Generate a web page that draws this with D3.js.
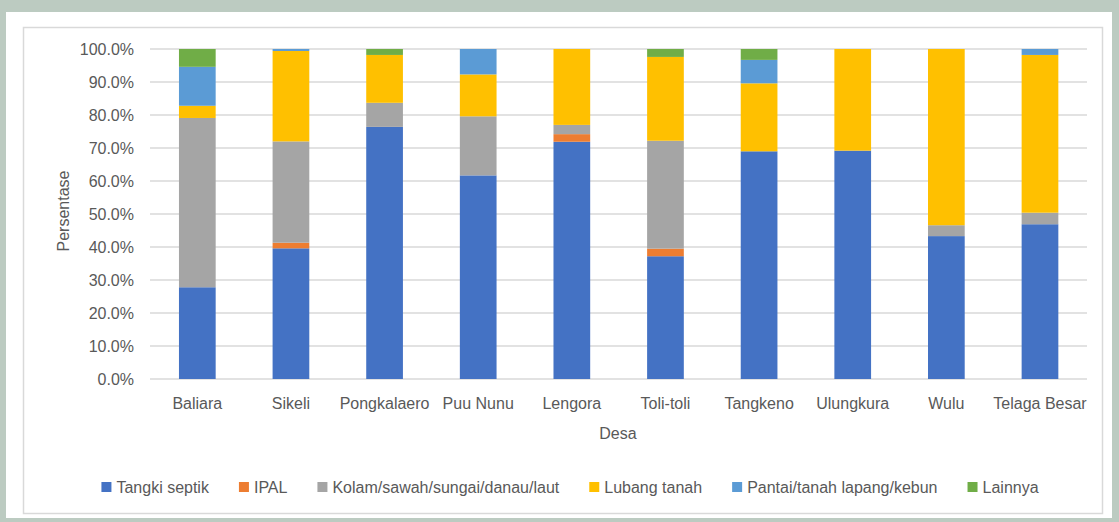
<!DOCTYPE html>
<html><head><meta charset="utf-8">
<script src="https://cdn.jsdelivr.net/npm/d3@7"></script>
<style>
html,body{margin:0;padding:0;background:#bccbc1;}
svg{display:block;font-family:"Liberation Sans",Arial,sans-serif;}
</style></head>
<body>
<svg id="chart" width="1119" height="522"></svg>
<script>
const categories = ["Baliara","Sikeli","Pongkalaero","Puu Nunu","Lengora","Toli-toli","Tangkeno","Ulungkura","Wulu","Telaga Besar"];
const seriesNames = ["Tangki septik","IPAL","Kolam/sawah/sungai/danau/laut","Lubang tanah","Pantai/tanah lapang/kebun","Lainnya"];
const seriesColors = ["#4472c4","#ed7d31","#a5a5a5","#ffc000","#5b9bd5","#70ad47"];
const tangkiSeptik = [27.8, 39.6, 76.4, 61.7, 71.9, 37.2, 69.0, 69.2, 43.3, 46.9];
const ipal         = [0.0,  1.7,  0.0,  0.0,  2.3,  2.3,  0.0,  0.0,  0.0,  0.0];
const kolam        = [51.3, 30.7, 7.3,  17.9, 2.8,  32.7, 0.0,  0.0,  3.3,  3.5];
const lubangTanah  = [3.7,  27.4, 14.5, 12.7, 23.0, 25.4, 20.6, 30.8, 53.4, 47.8];
const pantai       = [11.8, 0.6,  0.0,  7.7,  0.0,  0.0,  7.1,  0.0,  0.0,  1.8];
const lainnya      = [5.4,  0.0,  1.8,  0.0,  0.0,  2.4,  3.3,  0.0,  0.0,  0.0];
const yTicks = [0,10,20,30,40,50,60,70,80,90,100];
const yLabel = "Persentase";
const xLabel = "Desa";

const seriesValues = [tangkiSeptik, ipal, kolam, lubangTanah, pantai, lainnya];
const table = categories.map((c,i)=>{
  const row = {desa:c};
  seriesNames.forEach((s,j)=>row[s]=seriesValues[j][i]);
  return row;
});

const FS = 16;
const TXT = "#595959";
const svg = d3.select("#chart");
// panels
svg.append("rect").attr("x",6).attr("y",12).attr("width",1106).attr("height",506).attr("fill","#fff");
svg.append("rect").attr("x",23.5).attr("y",27.5).attr("width",1079).attr("height",486)
  .attr("fill","#fff").attr("stroke","#d9d9d9").attr("stroke-width",1.5);

const x = d3.scaleBand().domain(categories).range([150.5,1086.8]).padding(0);
const y = d3.scaleLinear().domain([0,100]).range([379,49]);
const barW = x.bandwidth()*0.392;

// grid
const g = svg.append("g");
g.selectAll("line.grid").data(yTicks).join("line")
  .attr("x1",150).attr("x2",1087)
  .attr("y1",d=>y(d)).attr("y2",d=>y(d))
  .attr("stroke","#d9d9d9").attr("stroke-width",1.5);

// y tick labels
g.selectAll("text.yt").data(yTicks).join("text")
  .attr("x",134).attr("y",d=>y(d)).attr("dy","0.36em")
  .attr("text-anchor","end").attr("font-size",FS).attr("fill",TXT)
  .text(d=>d3.format(".1f")(d)+"%");

// stacks
const stack = d3.stack().keys(seriesNames)(table);
svg.append("g").selectAll("g").data(stack).join("g")
  .attr("fill",(d,i)=>seriesColors[i])
  .selectAll("rect").data(d=>d).join("rect")
  .attr("x",d=>x(d.data.desa)+x.bandwidth()/2-barW/2)
  .attr("width",barW)
  .attr("y",d=>y(d[1]))
  .attr("height",d=>Math.max(0,y(d[0])-y(d[1])));

// x labels
svg.append("g").selectAll("text").data(categories).join("text")
  .attr("x",d=>x(d)+x.bandwidth()/2).attr("y",403).attr("dy","0.36em")
  .attr("text-anchor","middle").attr("font-size",FS).attr("fill",TXT)
  .text(d=>d);

svg.append("text").attr("x",618).attr("y",433).attr("dy","0.36em")
  .attr("text-anchor","middle").attr("font-size",FS).attr("fill",TXT).text(xLabel);

svg.append("text").attr("transform","translate(63,211) rotate(-90)").attr("dy","0.36em")
  .attr("text-anchor","middle").attr("font-size",FS).attr("fill",TXT).text(yLabel);

// legend
const GAP = 30;
const lg = svg.append("g");
let cx = 0;
const items = [];
seriesNames.forEach((s,i)=>{
  const it = lg.append("g");
  it.append("rect").attr("x",0).attr("y",-5).attr("width",10).attr("height",10).attr("fill",seriesColors[i]);
  const t = it.append("text").attr("x",15).attr("y",0).attr("dy","0.36em")
    .attr("font-size",FS).attr("fill",TXT).text(s);
  const w = 15 + t.node().getComputedTextLength();
  items.push({it, x:cx});
  cx += w + GAP;
});
const totalW = cx - GAP;
const startX = 570 - totalW/2;
items.forEach(o=>o.it.attr("transform",`translate(${startX+o.x},487)`));
</script>
</body></html>
